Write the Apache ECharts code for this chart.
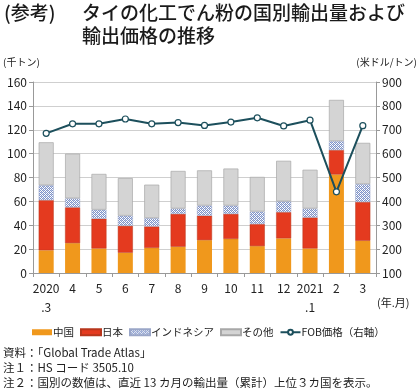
<!DOCTYPE html>
<html><head><meta charset="utf-8">
<script src="https://cdn.jsdelivr.net/npm/echarts@6/dist/echarts.min.js"></script>
<style>html,body{margin:0;padding:0;background:#fff}#c{width:420px;height:392px}</style>
</head><body><div id="c"></div>
<script>
var categories = ['2020\n.3','4','5','6','7','8','9','10','11','12','2021\n.1','2','3'];
var china = [19, 25, 20.5, 17, 21, 22, 27.5, 28.5, 22.5, 29, 20.5, 82.5, 27];
var japan = [42, 30, 25, 22.5, 18, 27.5, 20.5, 21, 18.5, 22, 26, 20.5, 32.5];
var indonesia = [12.5, 7.5, 7.5, 8.5, 7, 4.5, 8.5, 7, 10.5, 9, 7.5, 7.5, 15];
var others = [36, 37.5, 30, 31.5, 28, 31.5, 29.5, 31, 29, 34, 32.5, 34.5, 34.5];
var fob = [685, 725, 725, 745, 725, 730, 718, 732, 750, 716, 740, 440, 717];

var FONT = '"Noto Sans CJK JP", "Noto Sans", sans-serif';
var TXT = '#222';

// hatch pattern for Indonesia
var pc = document.createElement('canvas');
pc.width = 4; pc.height = 4;
var g = pc.getContext('2d');
g.fillStyle = '#ffffff'; g.fillRect(0,0,4,4);
g.fillStyle = '#8094c8';
g.fillRect(0,0,1,1); g.fillRect(2,0,1,1); g.fillRect(1,1,1,1); g.fillRect(3,1,1,1);
g.fillRect(0,2,1,1); g.fillRect(2,2,1,1); g.fillRect(1,3,1,1); g.fillRect(3,3,1,1);
g.fillStyle = '#b8c4e4'; g.fillRect(1,0,1,1); g.fillRect(3,2,1,1);
var hatch = {image: pc, repeat: 'repeat'};

var chart = echarts.init(document.getElementById('c'), null, {renderer: 'canvas'});
var barW = 15;
chart.setOption({
  animation: false,
  textStyle: {fontFamily: FONT},
  grid: {left: 33, right: 44, top: 82, bottom: 119},
  graphic: [
    {type: 'text', left: 4, top: 3, style: {text: '(参考)', font: '500 19px ' + FONT, fill: '#1a1a1a'}},
    {type: 'text', left: 82, top: 3, style: {text: 'タイの化工でん粉の国別輸出量および', font: '500 19px ' + FONT, fill: '#1a1a1a'}},
    {type: 'text', left: 82, top: 26, style: {text: '輸出価格の推移', font: '500 19px ' + FONT, fill: '#1a1a1a'}},
    {type: 'text', left: 3, top: 57, style: {text: '(千トン)', font: '10px ' + FONT, fill: TXT}},
    {type: 'text', right: 3, top: 57, style: {text: '(米ドル/トン)', font: '10px ' + FONT, fill: TXT}},
    {type: 'text', left: 377, top: 297, style: {text: '(年.月)', font: '11px ' + FONT, fill: TXT}},
    {type: 'text', left: 3, top: 347, style: {text: '資料：「Global Trade Atlas」', font: '11.5px ' + FONT, fill: TXT}},
    {type: 'text', left: 3, top: 362, style: {text: '注１：HS コード 3505.10', font: '11.5px ' + FONT, fill: TXT}},
    {type: 'text', left: 3, top: 377, style: {text: '注２：国別の数値は、直近 13 カ月の輸出量（累計）上位３カ国を表示。', font: '11.5px ' + FONT, fill: TXT}}
  ],
  legend: {
    top: 322, left: 27,
    itemWidth: 20, itemHeight: 6, itemGap: 6,
    textStyle: {fontSize: 10.5, color: TXT, fontFamily: FONT, padding: [0,0,0,-4]},
    data: [
      {name: '中国', icon: 'rect'},
      {name: '日本', icon: 'rect'},
      {name: 'インドネシア', icon: 'rect'},
      {name: 'その他', icon: 'rect'},
      {name: 'FOB価格（右軸）'}
    ]
  },
  xAxis: {
    type: 'category', data: categories,
    axisLine: {lineStyle: {color: '#999'}},
    axisTick: {show: true, length: 4, lineStyle: {color: '#999'}},
    axisLabel: {color: TXT, fontSize: 12, lineHeight: 19, margin: 6, interval: 0}
  },
  yAxis: [
    {type: 'value', min: 0, max: 160, interval: 20,
     axisLine: {show: true, lineStyle: {color: '#999'}},
     axisTick: {show: true, length: 4, inside: false, lineStyle: {color: '#999'}},
     axisLabel: {color: TXT, fontSize: 12, margin: 6},
     splitLine: {lineStyle: {color: '#cfcfcf'}}},
    {type: 'value', min: 100, max: 900, interval: 100,
     axisLine: {show: true, lineStyle: {color: '#999'}},
     axisTick: {show: true, length: 4, lineStyle: {color: '#999'}},
     axisLabel: {color: TXT, fontSize: 12, margin: 6},
     splitLine: {show: false}}
  ],
  series: [
    {name: '中国', type: 'bar', stack: 's', barWidth: barW, data: china,
     itemStyle: {color: '#f0981c'}},
    {name: '日本', type: 'bar', stack: 's', barWidth: barW, data: japan,
     itemStyle: {color: '#e43a1f', borderColor: '#b8361c', borderWidth: 0.5}},
    {name: 'インドネシア', type: 'bar', stack: 's', barWidth: barW, data: indonesia,
     itemStyle: {color: hatch, borderColor: '#9aa6c8', borderWidth: 0.5}},
    {name: 'その他', type: 'bar', stack: 's', barWidth: barW, data: others,
     itemStyle: {color: '#d4d4d4', borderColor: '#a8a8a8', borderWidth: 0.7}},
    {name: 'FOB価格（右軸）', type: 'line', yAxisIndex: 1, data: fob,
     symbol: 'circle', symbolSize: 6, z: 5,
     lineStyle: {color: '#1c4f5c', width: 2},
     itemStyle: {color: '#ffffff', borderColor: '#1c4f5c', borderWidth: 1.2}}
  ]
});
</script></body></html>
